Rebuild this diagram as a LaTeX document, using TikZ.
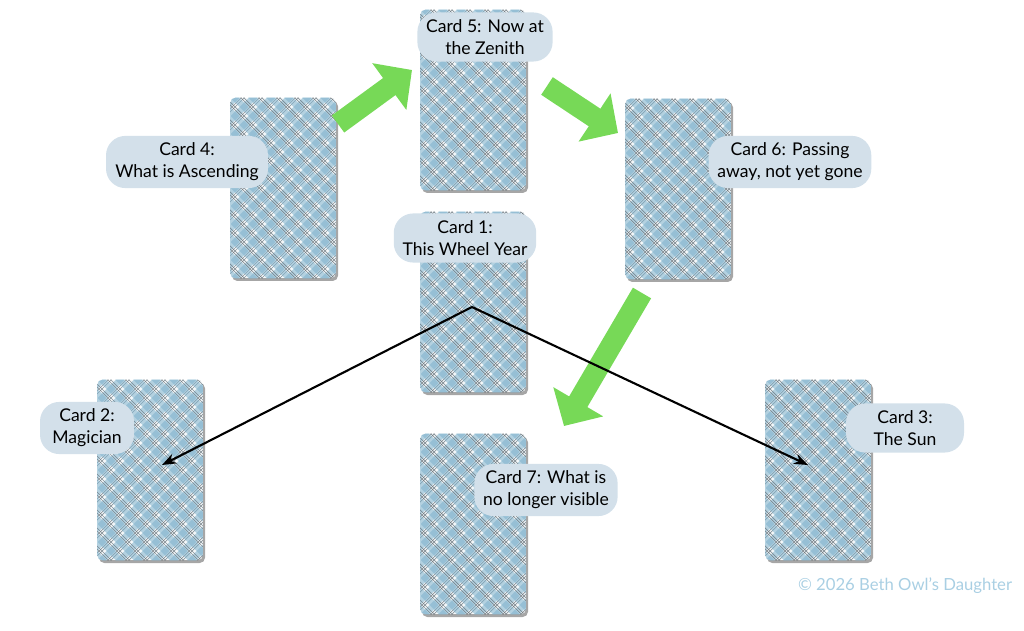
\documentclass[tikz,border=0pt]{standalone}
\usepackage{fontspec}
\setmainfont{Lato}
\usetikzlibrary{arrows.meta,positioning,calc}

\definecolor{pillfill}{HTML}{D3E0EA}
\definecolor{plaidbg}{HTML}{F4F8FA}
\definecolor{plaidblue}{HTML}{7FB2CC}
\definecolor{plaidgray}{HTML}{5E6A72}
\definecolor{arrowgreen}{HTML}{77D957}
\definecolor{credit}{HTML}{A9CFE3}

\tikzset{
  card/.style={minimum width=2.1cm, minimum height=3.6cm, inner sep=0pt, draw=none},
  pill/.style={fill=pillfill, rounded corners=11pt, align=center, inner xsep=5pt,
    inner ysep=4pt, font=\fontsize{10}{12.5}\selectfont},
  green arrow/.style={draw=arrowgreen, line width=12pt,
    -{Triangle[length=16pt, width=32pt]}},
  pointer/.style={draw=black, line width=1.2pt, -{Stealth[length=8pt]}},
}

\newcommand\plaidcard[3]{%
  \fill[black!35, rounded corners=3pt] (#2+2,#3+3) rectangle (#2+108,#3+183);
  \node[card] (#1) at (#2+53,#3+90) {};
  \begin{scope}
    \clip[rounded corners=3pt] (#1.south west) rectangle (#1.north east);
    \fill[plaidbg] (#1.south west) rectangle (#1.north east);
    \foreach \d in {-300,-282,...,300} {
      \draw[plaidblue, line width=3.5pt, opacity=0.55] ($(#1.center)+(\d-110,110)$) -- ++(220,-220);
      \draw[plaidgray, line width=0.4pt, opacity=0.7] ($(#1.center)+(\d-104,110)$) -- ++(220,-220);
      \draw[plaidgray, line width=0.4pt, opacity=0.7] ($(#1.center)+(\d-101,110)$) -- ++(220,-220);
    }
    \foreach \d in {-300,-282,...,300} {
      \draw[plaidblue, line width=3.5pt, opacity=0.55] ($(#1.center)+(\d-110,-110)$) -- ++(220,220);
      \draw[plaidgray, line width=0.4pt, opacity=0.7] ($(#1.center)+(\d-104,-110)$) -- ++(220,220);
      \draw[plaidgray, line width=0.4pt, opacity=0.7] ($(#1.center)+(\d-101,-110)$) -- ++(220,220);
    }
  \end{scope}}

\begin{document}
\begin{tikzpicture}[x=0.02cm, y=-0.02cm]
  \useasboundingbox (0,0) rectangle (1024,631);

  % cards
  \plaidcard{c4}{230}{98}
  \plaidcard{c5}{420}{10}
  \plaidcard{c6}{625}{99}
  \plaidcard{c1}{420}{212}
  \plaidcard{c2}{97}{380}
  \plaidcard{c7}{420}{434}
  \plaidcard{c3}{765}{380}

  % arrows
  \coordinate (a4) at (338,124);
  \coordinate (a5) at (412,70);
  \coordinate (b5) at (547,86);
  \coordinate (b6) at (618,133);
  \coordinate (c6s) at (642,293);
  \coordinate (c7e) at (564,426);
  \draw[green arrow] (a4) -- (a5);
  \draw[green arrow] (b5) -- (b6);
  \draw[green arrow] (c6s) -- (c7e);

  \coordinate (hub) at (472,307);
  \coordinate (p2) at (162,465);
  \coordinate (p3) at (808,465);
  \draw[pointer] (hub) -- (p2);
  \draw[pointer] (hub) -- (p3);

  % labels
  \node[pill, minimum width=3.24cm] (l4) at (187,162) {Card 4:\\What is Ascending};
  \node[pill, minimum width=2.36cm] (l5) at (485,37) {Card 5: Now at\\the Zenith};
  \node[pill, minimum width=2.84cm] (l6) at (790,162) {Card 6: Passing\\away, not yet gone};
  \node[pill, minimum width=2.84cm] (l1) at (465,238) {Card 1:\\This Wheel Year};
  \node[pill, minimum width=1.88cm] (l2) at (87,428) {Card 2:\\Magician};
  \node[pill, minimum width=2.6cm] (l7) at (546,490) {Card 7: What is\\no longer visible};
  \node[pill, minimum width=2.36cm] (l3) at (905,428) {Card 3:\\The Sun};

  \node[text=credit, font=\fontsize{9.5}{11}\selectfont] (credit) at (905,586)
    {© 2026 Beth Owl’s Daughter};
\end{tikzpicture}
\end{document}
